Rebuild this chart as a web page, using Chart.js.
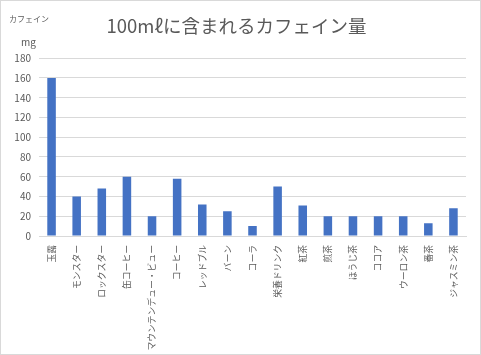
<!DOCTYPE html>
<html lang="ja">
<head>
  <meta charset="UTF-8" />
  <title>100mℓに含まれるカフェイン量</title>
  <script src="https://cdn.jsdelivr.net/npm/chart.js"></script>
  <style>
    html, body {
      margin: 0;
      padding: 0;
      background: #fff;
    }
    .frame {
      width: 479px;
      height: 353px;
      border: 1px solid #d9d9d9;
      position: relative;
    }
  </style>
</head>
<body>
  <div class="frame">
    <canvas id="chart" width="479" height="353"></canvas>
  </div>

  <script>
    // data
    const drinks = [
      '玉露', 'モンスター', 'ロックスター', '缶コーヒー', 'マウンテンデュー・ビュー',
      'コーヒー', 'レッドブル', 'バーン', 'コーラ', '栄養ドリンク',
      '紅茶', '煎茶', 'ほうじ茶', 'ココア', 'ウーロン茶', '番茶', 'ジャスミン茶'
    ];
    const caffeineMg = [160, 40, 48, 60, 20, 58, 32, 25, 10, 50, 31, 20, 20, 20, 20, 13, 28];
    const yTicks = [0, 20, 40, 60, 80, 100, 120, 140, 160, 180];

    const jpFont = "'Noto Sans CJK JP', 'Noto Sans', sans-serif";
    const gray = '#595959';

    // small unit captions in the top-left corner
    const unitCaption = {
      id: 'unitCaption',
      afterDraw(chart) {
        const c = chart.ctx;
        c.save();
        c.fillStyle = gray;
        c.textBaseline = 'middle';
        c.textAlign = 'left';
        c.font = "8px " + jpFont;
        c.fillText('カフェイン', 8, 18);
        c.font = "10px " + jpFont;
        c.fillText('mg', 20, 41);
        c.restore();
      }
    };

    new Chart(document.getElementById('chart').getContext('2d'), {
      type: 'bar',
      data: {
        labels: drinks,
        datasets: [{
          data: caffeineMg,
          backgroundColor: '#4472C4',
          barPercentage: 0.34,
          categoryPercentage: 1
        }]
      },
      options: {
        responsive: false,
        animation: false,
        layout: { padding: { left: 6, right: 14, bottom: 0 } },
        scales: {
          x: {
            grid: { display: false },
            border: { display: true, color: '#d9d9d9' },
            ticks: {
              autoSkip: false,
              minRotation: 90,
              maxRotation: 90,
              padding: 1,
              color: gray,
              font: { family: jpFont, size: 8.8 }
            },
            afterFit(scale) { scale.height = 118; }
          },
          y: {
            min: 0,
            max: 180,
            afterBuildTicks(scale) { scale.ticks = yTicks.map(v => ({ value: v })); },
            grid: { color: '#d9d9d9', drawTicks: false },
            border: { display: false },
            ticks: {
              padding: 8,
              color: gray,
              font: { family: jpFont, size: 10 }
            },
            afterFit(scale) { scale.width = 32; }
          }
        },
        plugins: {
          legend: { display: false },
          tooltip: { enabled: false },
          title: {
            display: true,
            text: '100mℓに含まれるカフェイン量',
            color: gray,
            font: { family: jpFont, size: 18.5, weight: 'normal' },
            padding: { top: 14, bottom: 21 }
          }
        }
      },
      plugins: [unitCaption]
    });
  </script>
</body>
</html>
